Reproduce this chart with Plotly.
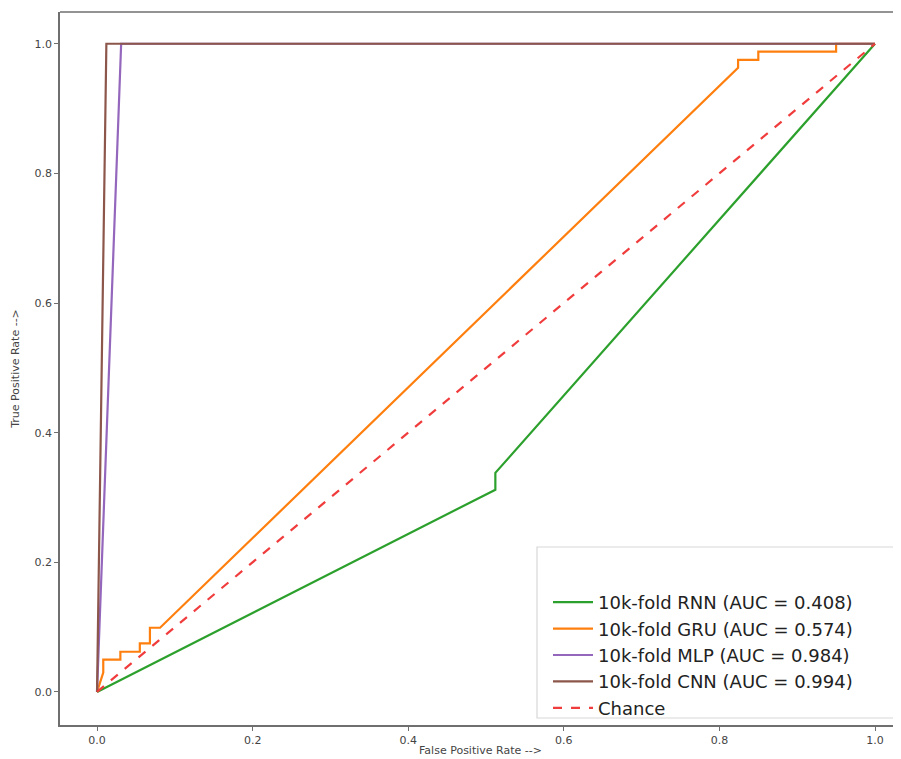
import plotly.graph_objects as go

# ROC curve data
rnn_fpr = [0.0, 0.512, 0.512, 1.0]
rnn_tpr = [0.0, 0.312, 0.338, 1.0]

gru_fpr = [0.0, 0.008, 0.008, 0.03, 0.03, 0.055, 0.055, 0.068, 0.068, 0.081,
           0.824, 0.824, 0.85, 0.85, 0.95, 0.95, 1.0]
gru_tpr = [0.0, 0.03, 0.05, 0.05, 0.062, 0.062, 0.075, 0.075, 0.099, 0.099,
           0.963, 0.975, 0.975, 0.988, 0.988, 1.0, 1.0]

mlp_fpr = [0.0, 0.031, 1.0]
mlp_tpr = [0.0, 1.0, 1.0]

cnn_fpr = [0.0, 0.012, 1.0]
cnn_tpr = [0.0, 1.0, 1.0]

chance = [0.0, 1.0]

names = ["10k-fold RNN (AUC = 0.408)", "10k-fold GRU (AUC = 0.574)",
         "10k-fold MLP (AUC = 0.984)", "10k-fold CNN (AUC = 0.994)", "Chance"]
ticks = [0.0, 0.2, 0.4, 0.6, 0.8, 1.0]
tick_labels = ["0.0", "0.2", "0.4", "0.6", "0.8", "1.0"]

# page body offset (browser default margin) compensated in figure size
OFF = 8
W, H = 901 - OFF, 759 - OFF
ML, MR, MT, MB = 60 - OFF, 0, 12 - OFF, 34
pw, ph = 841, 713   # plot area on screen: x 60..901, y 12..725

def px(p):
    return (p - 60) / pw

def py(p):
    return (725 - p) / ph

fig = go.Figure()
fig.add_trace(go.Scatter(x=rnn_fpr, y=rnn_tpr, mode="lines", name=names[0],
                         line=dict(color="#2ca02c", width=2.2)))
fig.add_trace(go.Scatter(x=gru_fpr, y=gru_tpr, mode="lines", name=names[1],
                         line=dict(color="#ff7f0e", width=2.2)))
fig.add_trace(go.Scatter(x=mlp_fpr, y=mlp_tpr, mode="lines", name=names[2],
                         line=dict(color="#9467bd", width=2.2)))
fig.add_trace(go.Scatter(x=cnn_fpr, y=cnn_tpr, mode="lines", name=names[3],
                         line=dict(color="#8c564b", width=2.2)))
fig.add_trace(go.Scatter(x=chance, y=chance, mode="lines", name=names[4],
                         line=dict(color="#f03c3c", width=2.2, dash="dash")))

# legend frame
fig.add_shape(type="rect", xref="paper", yref="paper",
              x0=px(537), x1=1.02, y0=py(718), y1=py(547),
              line=dict(color="#d8d8d8", width=1.2), fillcolor="white", layer="below")

axis_common = dict(
    showgrid=False, zeroline=False, showline=True, linecolor="#6f6f6f", linewidth=1.6,
    ticks="outside", ticklen=4, tickcolor="#6f6f6f", tickwidth=1,
    tickfont=dict(family="DejaVu Sans", size=11, color="#444"),
    tickvals=ticks, ticktext=tick_labels, automargin=False,
)

fig.update_layout(
    width=W, height=H,
    margin=dict(l=ML, r=MR, t=MT, b=MB, autoexpand=False),
    paper_bgcolor="white", plot_bgcolor="white",
    font=dict(family="DejaVu Sans", color="#333"),
    xaxis=dict(range=[-0.0476, (901 - 97) / 778.0],
               title=dict(text="False Positive Rate -->", font=dict(size=11, color="#444"), standoff=0),
               **axis_common),
    yaxis=dict(range=[-0.051, 1.049],
               title=dict(text="True Positive Rate -->", font=dict(size=11, color="#444"), standoff=13),
               **axis_common),
    legend=dict(x=px(548), y=py(584), xanchor="left", yanchor="top",
                bgcolor="rgba(0,0,0,0)", borderwidth=0,
                font=dict(family="DejaVu Sans", size=18, color="#222"),
                tracegroupgap=0, itemwidth=40),
    showlegend=True,
)
# top border line
fig.add_shape(type="line", xref="paper", yref="paper", x0=0, x1=1, y0=1, y1=1,
              line=dict(color="#6f6f6f", width=1.6))

fig.write_html("out.html")
